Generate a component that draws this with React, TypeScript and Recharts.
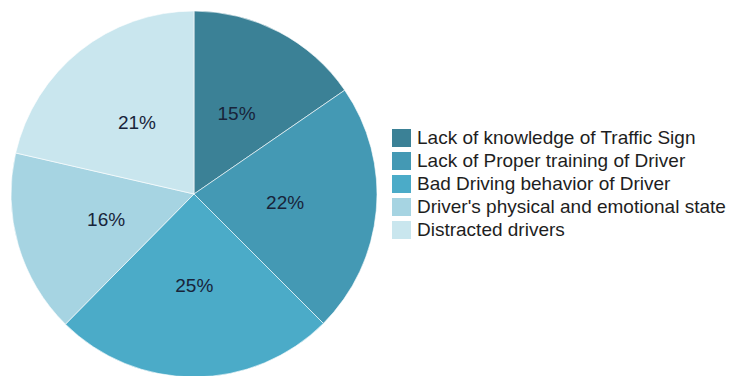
import { PieChart, Pie, Cell, Legend } from 'recharts'

const CATEGORIES = [
  'Lack of knowledge of Traffic Sign',
  'Lack of Proper training of Driver',
  'Bad Driving behavior of Driver',
  "Driver's physical and emotional state",
  'Distracted drivers',
]
const SHARES = [15.4, 22.1, 24.9, 16.2, 21.4]
const COLORS = ['#3b8196', '#4499b4', '#4babc8', '#a6d4e2', '#c9e6ee']

const data = CATEGORIES.map((name, i) => ({ name, value: SHARES[i] }))

const RAD = Math.PI / 180

function renderLabel(props: any) {
  const { cx, cy, midAngle, outerRadius, percent } = props
  const r = outerRadius * 0.5
  const x = cx + r * Math.cos(-midAngle * RAD)
  const y = cy + r * Math.sin(-midAngle * RAD)
  return (
    <text x={x} y={y} fill="#18243a" fontSize={19} fontFamily="Liberation Sans, Arial, sans-serif"
          textAnchor="middle" dominantBaseline="central">
      {`${Math.round(percent * 100)}%`}
    </text>
  )
}

function renderLegend() {
  return (
    <div style={{ fontFamily: 'Liberation Sans, Arial, sans-serif', fontSize: 19, color: '#1e1e1e' }}>
      {CATEGORIES.map((c, i) => (
        <div key={c} style={{ display: 'flex', alignItems: 'center', height: 23, whiteSpace: 'nowrap' }}>
          <span style={{ width: 19, height: 18, background: COLORS[i], marginRight: 6, display: 'inline-block', flexShrink: 0 }} />
          <span>{c}</span>
        </div>
      ))}
    </div>
  )
}

export default function App() {
  return (
    <div style={{ position: 'absolute', left: 0, top: 0, width: 744, height: 376, background: '#fff', overflow: 'hidden' }}>
      <PieChart width={744} height={376} margin={{ top: 0, right: 0, bottom: 0, left: 0 }}>
        <Pie data={data} dataKey="value" nameKey="name" cx={194} cy={194} outerRadius={183}
             startAngle={90} endAngle={-270} label={renderLabel} labelLine={false}
             stroke="#ffffff" strokeWidth={0.6} isAnimationActive={false}>
          {data.map((d, i) => <Cell key={d.name} fill={COLORS[i]} />)}
        </Pie>
        <Legend content={renderLegend} wrapperStyle={{ left: 392, top: 126, width: 352 }} />
      </PieChart>
    </div>
  )
}
